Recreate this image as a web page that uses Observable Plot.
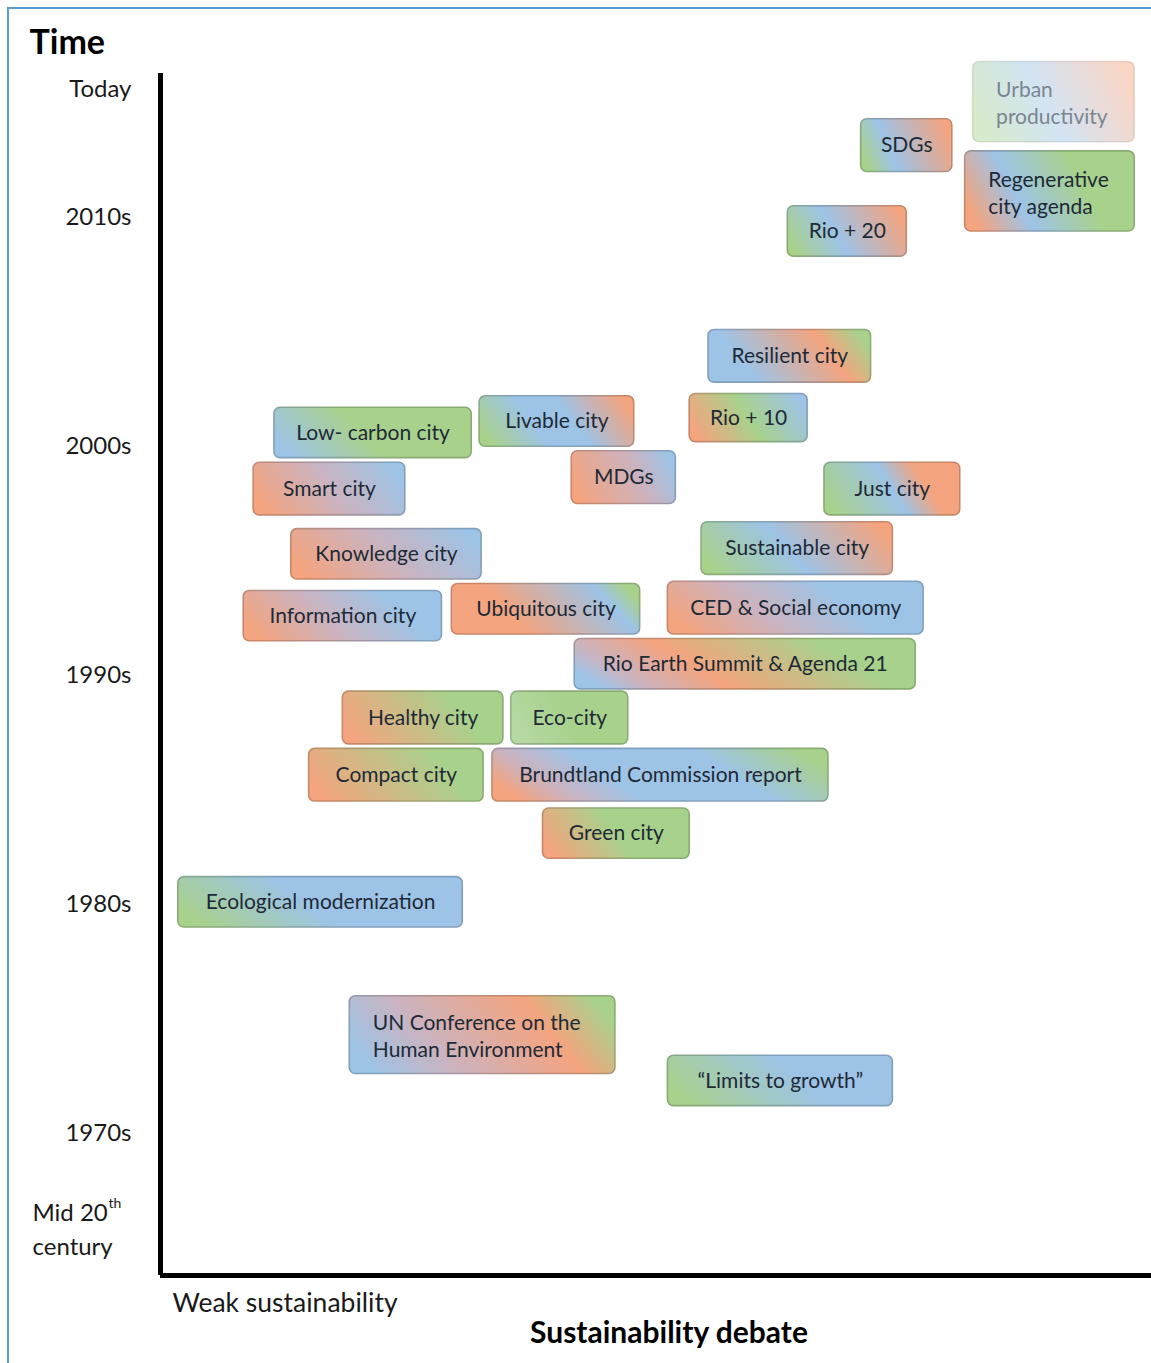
<!DOCTYPE html>
<html><head><meta charset="utf-8">
<script src="https://cdn.jsdelivr.net/npm/d3@7"></script>
<script src="https://cdn.jsdelivr.net/npm/@observablehq/plot@0.6"></script>
<style>
body{margin:0;background:#fff;}
#wrap{position:relative;width:1151px;height:1363px;overflow:hidden;background:#fff;}
#chart{position:absolute;left:0;top:0;}
#border{position:absolute;left:7px;top:7px;width:1300px;height:1500px;border-left:2px solid #5B9BD5;border-top:2px solid #5B9BD5;pointer-events:none;}
</style></head><body>
<div id="wrap"><div id="chart"></div><div id="border"></div></div>
<script>
// ---- data (x: position in the sustainability debate, 0 = weak; y: year) ----
const boxLabels = [
  "Urban\nproductivity", "SDGs", "Regenerative\ncity agenda", "Rio + 20",
  "Resilient city", "Livable city", "Low- carbon city", "Rio + 10", "MDGs",
  "Smart city", "Just city", "Knowledge city", "Sustainable city",
  "Information city", "Ubiquitous city", "CED & Social economy",
  "Rio Earth Summit & Agenda 21", "Healthy city", "Eco-city", "Compact city",
  "Brundtland Commission report", "Green city", "Ecological modernization",
  "UN Conference on the\nHuman Environment", "\u201CLimits to growth\u201D"
];
const boxStart = [82.0, 70.7, 81.2, 63.3, 55.3, 32.2, 11.5, 53.4, 41.5, 9.4, 67.0, 13.2, 54.6, 8.4, 29.4, 51.2, 41.8, 18.4, 35.4, 15.0, 33.5, 38.6, 1.8, 19.1, 51.2];
const boxEnd   = [98.3, 79.9, 98.3, 75.3, 71.7, 47.8, 31.4, 65.3, 52.0, 24.7, 80.7, 32.4, 73.9, 28.4, 48.4, 77.0, 76.2, 34.6, 47.2, 32.6, 67.4, 53.4, 30.5, 45.9, 73.9];
const boxTop    = [2016.8, 2014.3, 2012.9, 2010.5, 2005.1, 2002.2, 2001.7, 2002.3, 1999.8, 1999.3, 1999.3, 1996.4, 1996.7, 1993.7, 1994.0, 1994.1, 1991.6, 1989.3, 1989.3, 1986.8, 1986.8, 1984.2, 1981.2, 1976.0, 1973.4];
const boxBottom = [2013.3, 2012.0, 2009.4, 2008.3, 2002.8, 2000.0, 1999.5, 2000.2, 1997.5, 1997.0, 1997.0, 1994.2, 1994.4, 1991.5, 1991.8, 1991.8, 1989.4, 1987.0, 1987.0, 1984.5, 1984.5, 1982.0, 1979.0, 1972.6, 1971.2];
const tickLabels = ["Today", "2010s", "2000s", "1990s", "1980s", "1970s"];
const tickYears  = [2015.6, 2010, 2000, 1990, 1980, 1970];
const midCenturyYear = 1965.9;
const yDomain = [1963.8, 2016.3];
const xDomain = [0, 100];

// ---- styles ----
const palette = {G: "#A8D18C", L: "#B6D9A4", B: "#9DC3E6", O: "#F4A47F", M: "#CBB3BF"};
const boxFills = [
  "G0 B.45 O1", "G0 B.3 O1", "O0 B.3 G.7 G1", "G0 B.4 O1", "B0 B.2 O.75 G1",
  "G0 B.35 B.6 O1", "B0 G.45 G1", "O0 G.5 B1", "O0 M.65 B1", "O0 M.5 B1",
  "G0 B.5 O.75 O1", "O0 M.5 B1", "G0 B.45 O1", "O0 M.4 B.8 B1", "O0 O.3 B.85 G1",
  "O0 M.35 B.7 B1", "B0 M.12 O.35 G.8 G1", "O0 G.75 G1", "L0 G.5 G1", "O0 G.8 G1",
  "O0 M.15 B.35 B.7 G1", "O0 G.5 G1", "G0 B.45 B1", "B0 M.3 O.75 G1", "G0 B.6 B1"
];
const fadedBox = 0;

const boxes = boxLabels.map((label, i) => ({
  label, i, x1: boxStart[i], x2: boxEnd[i], y1: boxTop[i], y2: boxBottom[i],
  multi: label.includes("\n")
}));
const ticks = tickLabels.map((label, i) => ({label, year: tickYears[i]}));
const FONT = "Lato, 'Open Sans', sans-serif";
const textColor = "#1e2a36";

const plot = Plot.plot({
  width: 1151, height: 1363,
  marginLeft: 160, marginRight: 0, marginTop: 73, marginBottom: 88,
  x: {domain: xDomain, axis: null},
  y: {domain: yDomain, axis: null},
  style: {fontFamily: FONT, background: "transparent", overflow: "visible"},
  marks: [
    Plot.rect(boxes, {x1: "x1", x2: "x2", y1: "y1", y2: "y2", rx: 6, fill: "#ccc", stroke: "#999", strokeWidth: 1.6, className: "box"}),
    Plot.text(boxes.filter(d => !d.multi), {
      x: d => (d.x1 + d.x2) / 2, y: d => (d.y1 + d.y2) / 2, text: "label",
      fontSize: 21, fill: textColor
    }),
    Plot.text(boxes.filter(d => d.multi), {
      x: "x1", y: d => (d.y1 + d.y2) / 2, text: "label", textAnchor: "start", dx: 23,
      lineHeight: 1.3, fontSize: 21, fill: d => d.i === fadedBox ? "#7a8690" : textColor
    }),
    Plot.ruleX([xDomain[0]], {stroke: "#000", strokeWidth: 5}),
    Plot.ruleY([yDomain[0]], {stroke: "#000", strokeWidth: 5, x1: xDomain[0], x2: xDomain[1]}),
    Plot.text(ticks, {frameAnchor: "left", y: "year", text: "label", textAnchor: "end", dx: -29, fontSize: 24, fill: "#1a1a1a"}),
    Plot.text(["Mid 20\ncentury"], {frameAnchor: "left", y: () => midCenturyYear, text: d => d, textAnchor: "start", dx: -128, fontSize: 24, lineHeight: 1.38, fill: "#1a1a1a"}),
    Plot.text(["th"], {frameAnchor: "left", y: () => midCenturyYear, text: d => d, textAnchor: "start", dx: -52, dy: -24, fontSize: 14, fill: "#1a1a1a"}),
    Plot.text(["Time"], {frameAnchor: "top-left", lineAnchor: "middle", text: d => d, textAnchor: "start", dx: -131, dy: -30, fontSize: 34, fontWeight: "bold", fill: "#000"}),
    Plot.text(["Weak sustainability"], {frameAnchor: "bottom-left", lineAnchor: "middle", text: d => d, textAnchor: "start", dx: 12, dy: 28, fontSize: 26.5, fill: "#1a1a1a"}),
    Plot.text(["Sustainability debate"], {frameAnchor: "bottom", lineAnchor: "middle", text: d => d, dx: 13, dy: 58, fontSize: 30, fontWeight: "bold", fill: "#000"})
  ]
});

// gradients
const svg = d3.select(plot);
const defs = svg.insert("defs", ":first-child");
boxFills.forEach((spec, i) => {
  const gf = defs.append("linearGradient").attr("id", "gf" + i)
    .attr("x1", 0).attr("y1", 0.62).attr("x2", 1).attr("y2", 0.38);
  const gs = defs.append("linearGradient").attr("id", "gs" + i)
    .attr("x1", 0).attr("y1", 0.62).attr("x2", 1).attr("y2", 0.38);
  spec.split(" ").forEach(s => {
    const c = palette[s[0]], off = +s.slice(1);
    gf.append("stop").attr("offset", off).attr("stop-color", c);
    gs.append("stop").attr("offset", off).attr("stop-color", d3.color(c).darker(0.55).formatHex());
  });
});
svg.selectAll("g.box rect").each(function(_, k) {
  const i = boxes[k].i;
  const r = d3.select(this).attr("fill", `url(#gf${i})`).attr("stroke", `url(#gs${i})`);
  if (i === fadedBox) r.attr("fill-opacity", 0.45).attr("stroke-opacity", 0.3);
});
document.getElementById("chart").appendChild(plot);
</script>
</body></html>
